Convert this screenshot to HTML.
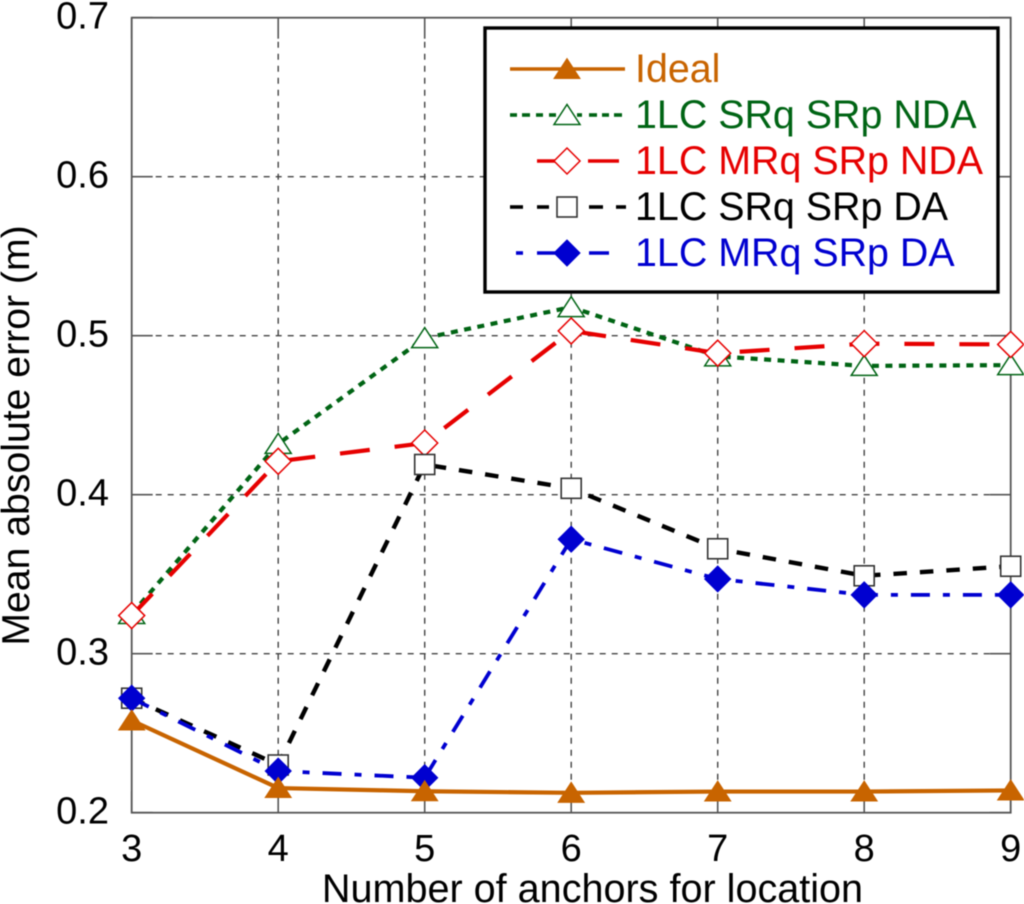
<!DOCTYPE html>
<html>
<head>
<meta charset="utf-8">
<title>Mean absolute error chart</title>
<style>
html,body{margin:0;padding:0;background:#fff;}
body{width:1024px;height:904px;overflow:hidden;}
svg{display:block;font-family:"Liberation Sans",Arial,sans-serif;filter:blur(0.45px);}
</style>
</head>
<body>
<svg id="chart" width="1024" height="904" viewBox="0 0 1024 904" xmlns="http://www.w3.org/2000/svg"></svg>
<script>
const categories = [3, 4, 5, 6, 7, 8, 9];
const yTicks = [0.2, 0.3, 0.4, 0.5, 0.6, 0.7];
const yTickLabels = ['0.2', '0.3', '0.4', '0.5', '0.6', '0.7'];
const ideal = [0.258, 0.2155, 0.2135, 0.2125, 0.2133, 0.2133, 0.214];
const srqSrpNda = [0.325, 0.432, 0.4985, 0.518, 0.487, 0.481, 0.4815];
const mrqSrpNda = [0.324, 0.421, 0.4325, 0.503, 0.489, 0.495, 0.4945];
const srqSrpDa = [0.272, 0.23, 0.419, 0.404, 0.366, 0.349, 0.355];
const mrqSrpDa = [0.272, 0.2262, 0.222, 0.372, 0.347, 0.337, 0.337];

const NS = 'http://www.w3.org/2000/svg';
const svg = document.getElementById('chart');
const L = 131.7, R = 1010.7, T = 17.7, B = 812.7;
function xScale(v) { return L + (v - categories[0]) / (categories[categories.length - 1] - categories[0]) * (R - L); }
function yScale(v) { return B - (v - 0.2) / 0.5 * (B - T); }
function make(tag, attrs, parent, text) {
  const el = document.createElementNS(NS, tag);
  for (const k in attrs) el.setAttribute(k, attrs[k]);
  if (text !== undefined) el.textContent = text;
  (parent || svg).appendChild(el);
  return el;
}
function drawMarker(kind, cx, cy, color, parent) {
  if (kind === 'triangle-filled' || kind === 'triangle-open') {
    const filled = kind === 'triangle-filled';
    return make('polygon', {
      points: (cx - 13) + ',' + (cy + 9.5) + ' ' + cx + ',' + (cy - 10.5) + ' ' + (cx + 13) + ',' + (cy + 9.5),
      fill: filled ? color : '#fff', stroke: color, 'stroke-width': filled ? 1 : 1.5
    }, parent);
  }
  if (kind === 'diamond-filled' || kind === 'diamond-open') {
    const filled = kind === 'diamond-filled';
    return make('polygon', {
      points: (cx - 13) + ',' + cy + ' ' + cx + ',' + (cy - 13) + ' ' + (cx + 13) + ',' + cy + ' ' + cx + ',' + (cy + 13),
      fill: filled ? color : '#fff', stroke: color, 'stroke-width': filled ? 1 : 1.5
    }, parent);
  }
  return make('rect', { x: cx - 10, y: cy - 10, width: 20, height: 20, fill: '#fff', stroke: '#333', 'stroke-width': 1.6 }, parent);
}

// Gridlines
const gridGroup = make('g', {});


categories.slice(1, -1).forEach(function (c) {
  const ln = make('line', { x1: xScale(c), x2: xScale(c), y1: T, y2: B, stroke: '#444', 'stroke-width': 1.4, 'stroke-dasharray': '6 6' }, gridGroup);
  
  
});
yTicks.slice(1, -1).forEach(function (t) {
  const ln = make('line', { x1: L, x2: R, y1: yScale(t), y2: yScale(t), stroke: '#444', 'stroke-width': 1.4, 'stroke-dasharray': '6 6' }, gridGroup);
  
  
});

// Frame and ticks
const frame = make('rect', { x: L, y: T, width: R - L, height: B - T, fill: 'none', stroke: '#555', 'stroke-width': 1.8 });


yTicks.forEach(function (t, i) {
  const y = yScale(t);
  make('line', { x1: L, x2: L + 21, y1: y, y2: y, stroke: '#555', 'stroke-width': 1.6 });
  make('line', { x1: R - 21, x2: R, y1: y, y2: y, stroke: '#555', 'stroke-width': 1.6 });
  const lb = make('text', { x: 109, y: y + 11, 'text-anchor': 'end', 'font-size': 38, fill: '#000' }, svg, yTickLabels[i]);
  
  
});
categories.forEach(function (c) {
  const x = xScale(c);
  make('line', { x1: x, x2: x, y1: B - 21, y2: B, stroke: '#555', 'stroke-width': 1.6 });
  make('line', { x1: x, x2: x, y1: T, y2: T + 21, stroke: '#555', 'stroke-width': 1.6 });
  const lb = make('text', { x: x, y: 861, 'text-anchor': 'middle', 'font-size': 38, fill: '#000' }, svg, String(c));
  
  
});

// Axis titles
const xTitle = make('text', { x: 592.5, y: 902, 'text-anchor': 'middle', 'font-size': 39.6, fill: '#000' }, svg, 'Number of anchors for location');


const yTitle = make('text', { x: 0, y: 0, 'text-anchor': 'middle', 'font-size': 39.2, fill: '#000', transform: 'translate(29,435.5) rotate(-90)' }, svg, 'Mean absolute error (m)');



// Series, drawn bottom-most first
const seriesDefs = [
  { name: 'srq-srp-nda', values: srqSrpNda, color: '#006414', width: 4.2, dash: '7 6.5', marker: 'triangle-open' },
  { name: 'mrq-srp-nda', values: mrqSrpNda, color: '#e60000', width: 4.2, dash: '30 25', marker: 'diamond-open' },
  { name: 'srq-srp-da', values: srqSrpDa, color: '#000', width: 4.4, dash: '13.5 13', marker: 'square-open' },
  { name: 'mrq-srp-da', values: mrqSrpDa, color: '#0000d0', width: 3.8, dash: '19 13 7 13', marker: 'diamond-filled' },
  { name: 'ideal', values: ideal, color: '#c86400', width: 4.2, dash: '', marker: 'triangle-filled' }
];
seriesDefs.forEach(function (s) {
  const g = make('g', {});
  
  
  const pts = s.values.map(function (v, i) { return xScale(categories[i]) + ',' + yScale(v); }).join(' ');
  const attrs = { points: pts, fill: 'none', stroke: s.color, 'stroke-width': s.width };
  if (s.dash) attrs['stroke-dasharray'] = s.dash;
  const line = make('polyline', attrs, g);
  
  
  s.values.forEach(function (v, i) {
    const m = drawMarker(s.marker, xScale(categories[i]), yScale(v), s.color, g);
    
    
  });
});

// Legend
const legend = make('g', {});


make('rect', { x: 485, y: 28, width: 513, height: 264, fill: '#fff', stroke: '#000', 'stroke-width': 3.4 }, legend);
const legendLabels = ['Ideal', '1LC SRq SRp NDA', '1LC MRq SRp NDA', '1LC SRq SRp DA', '1LC MRq SRp DA'];
const legendColors = ['#c86400', '#006414', '#e60000', '#000', '#0000d0'];
const legendMarkers = ['triangle-filled', 'triangle-open', 'diamond-open', 'square-open', 'diamond-filled'];
const legendSegments = [
  [[510, 625]],
  [[510, 517], [522, 530], [536, 543], [549, 556], [577, 582], [589, 597], [602, 609], [614, 622]],
  [[537, 555], [588, 619]],
  [[510, 523], [537, 549], [589, 603], [616, 626]],
  [[516, 523], [537, 555], [589, 609]]
];
const legendRowY = [69, 115, 161, 207, 253];
legendLabels.forEach(function (label, i) {
  const y = legendRowY[i];
  const g = make('g', {}, legend);
  
  
  legendSegments[i].forEach(function (seg) {
    make('line', { x1: seg[0], x2: seg[1], y1: y, y2: y, stroke: legendColors[i], 'stroke-width': 3.6 }, g);
  });
  drawMarker(legendMarkers[i], 567, y, legendColors[i], g);
  make('text', { x: 635, y: y + 13, 'font-size': 39.4, fill: legendColors[i] }, g, label);
});
</script>
</body>
</html>
